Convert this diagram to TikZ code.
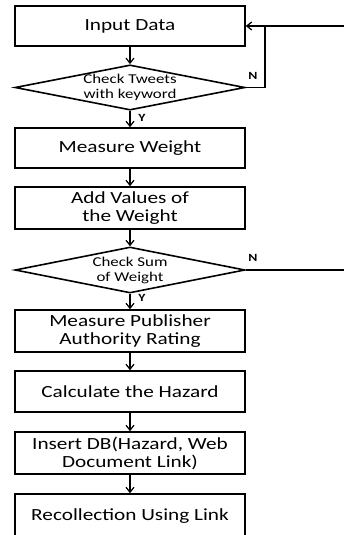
\documentclass[tikz,border=0pt]{standalone}
\usepackage{fontspec}
\setmainfont{Carlito}[FakeStretch=1.25]
\usetikzlibrary{shapes.geometric,arrows.meta}

\begin{document}
\begin{tikzpicture}[x=1pt,y=1pt,
    stepbox/.style={draw,line width=1.6pt,minimum width=230pt,align=center,
      inner sep=0pt,font=\fontsize{17}{18}\selectfont},
    check/.style={draw,diamond,line width=1.6pt,aspect=5,minimum width=230pt,
      minimum height=45pt,inner sep=0pt,align=center,font=\fontsize{13.5}{15}\selectfont},
    flow/.style={line width=1.2pt,-{Straight Barb[length=5pt,width=8pt]}},
    yn/.style={font=\fontsize{11}{12}\selectfont\bfseries,inner sep=0pt}]
  \useasboundingbox (0,0) rectangle (344,-535);
  \node[stepbox,minimum height=40pt] (input) at (130,-26) {Input Data};
  \node[check] (tweets) at (130,-87.5) {Check Tweets\\with keyword};
  \node[stepbox,minimum height=40pt] (weight) at (130,-148) {Measure Weight};
  \node[stepbox,minimum height=42pt] (addval) at (130,-208) {Add Values of\\the Weight};
  \node[check,minimum height=46pt] (sum) at (130,-270) {Check Sum\\of Weight};
  \node[stepbox,minimum height=42pt] (rating) at (130,-331) {Measure Publisher\\Authority Rating};
  \node[stepbox,minimum height=41pt] (hazard) at (130,-391.5) {Calculate the Hazard};
  \node[stepbox,minimum height=42pt] (insert) at (130,-453) {Insert DB(Hazard, Web\\Document Link)};
  \node[stepbox,minimum height=44pt] (recollect) at (130,-516) {Recollection Using Link};
  % labels
  \node[yn] (y1) at (142,-118) {Y};
  \node[yn] (y2) at (142,-298) {Y};
  \node[yn] (n1) at (253,-76) {N};
  \node[yn] (n2) at (253,-258) {N};
  % main flow
  \draw[flow] (input) -- (tweets);
  \draw[flow] (tweets) -- (weight);
  \draw[flow] (weight) -- (addval);
  \draw[flow] (addval) -- (sum);
  \draw[flow] (sum) -- (rating);
  \draw[flow] (rating) -- (hazard);
  \draw[flow] (hazard) -- (insert);
  \draw[flow] (insert) -- (recollect);
  % loops back
  \coordinate (loopin) at (344,-26);
  \coordinate (loopout) at (344,-270);
  \draw[line width=1.2pt] (tweets.east) -| (265,-26);
  \draw[flow] (loopin) -- (input.east);
  \draw[line width=1.2pt] (sum.east) -- (loopout);
\end{tikzpicture}
\end{document}
